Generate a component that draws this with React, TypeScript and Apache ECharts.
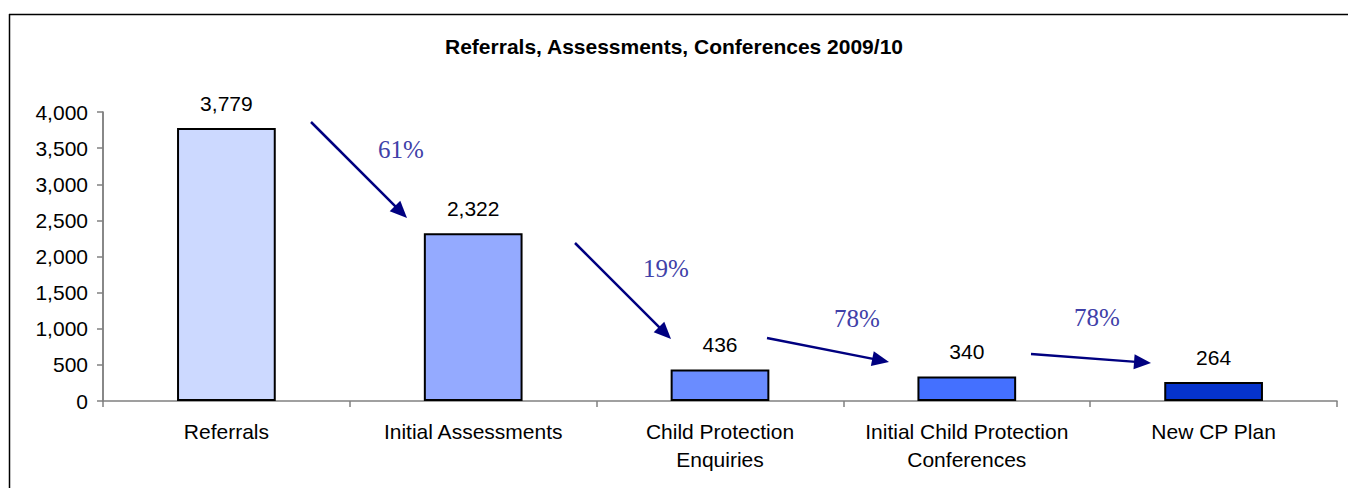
import React, { useEffect, useRef } from "react";
import * as echarts from "echarts";

const categories = [
  "Referrals",
  "Initial Assessments",
  "Child Protection\nEnquiries",
  "Initial Child Protection\nConferences",
  "New CP Plan",
];
const values = [3779, 2322, 436, 340, 264];
const barColors = ["#CCD9FF", "#94AAFF", "#6A8CFF", "#4470FF", "#0533CC"];
const yTicks = { min: 0, max: 4000, interval: 500 };
const conversionLabels = ["61%", "19%", "78%", "78%"];

const SANS = "'Liberation Sans', Arial, sans-serif";
const SERIF = "'Liberation Serif', 'Times New Roman', serif";

// annotation arrows (pixel positions): [x1, y1, x2, y2], label centre
const arrowGeom = [
  { a: [311, 122, 407, 218], l: [401, 149] },
  { a: [575, 243, 671, 339], l: [666, 268] },
  { a: [767, 338, 889, 362], l: [857, 318] },
  { a: [1031, 354, 1151, 363], l: [1097, 317] },
];

function arrowGraphics() {
  const out: any[] = [];
  arrowGeom.forEach((g, i) => {
    const [x1, y1, x2, y2] = g.a;
    const dx = x2 - x1;
    const dy = y2 - y1;
    const len = Math.sqrt(dx * dx + dy * dy);
    const ux = dx / len;
    const uy = dy / len;
    const headLen = 17;
    const headW = 7.5;
    const bx = x2 - ux * headLen;
    const by = y2 - uy * headLen;
    out.push({
      type: "line",
      shape: { x1, y1, x2: bx + ux * 2, y2: by + uy * 2 },
      style: { stroke: "#000080", lineWidth: 2.5 },
      z: 10,
    });
    out.push({
      type: "polygon",
      shape: {
        points: [
          [x2, y2],
          [bx - uy * headW, by + ux * headW],
          [bx + uy * headW, by - ux * headW],
        ],
      },
      style: { fill: "#000080" },
      z: 10,
    });
    out.push({
      type: "text",
      x: g.l[0],
      y: g.l[1],
      style: {
        text: conversionLabels[i],
        font: `25px ${SERIF}`,
        fill: "#4040A8",
        textAlign: "center",
        textVerticalAlign: "middle",
      },
      z: 10,
    });
  });
  return out;
}

export default function App() {
  const ref = useRef<HTMLDivElement>(null);
  useEffect(() => {
    if (!ref.current) return;
    const chart = echarts.init(ref.current, null, { renderer: "svg" });
    chart.setOption({
      animation: false,
      backgroundColor: "#ffffff",
      title: {
        text: "Referrals, Assessments, Conferences 2009/10",
        left: "center",
        top: 31,
        textStyle: {
          fontFamily: SANS,
          fontSize: 21,
          fontWeight: "bold",
          color: "#000",
        },
      },
      grid: { left: 103, right: 11, top: 112, bottom: 87, containLabel: false },
      xAxis: {
        type: "category",
        data: categories,
        axisLine: { lineStyle: { color: "#808080", width: 1.5 } },
        axisTick: {
          show: true,
          alignWithLabel: false,
          length: 6,
          lineStyle: { color: "#808080", width: 1.5 },
        },
        axisLabel: {
          fontFamily: SANS,
          fontSize: 21,
          color: "#000",
          margin: 16,
          lineHeight: 28,
          interval: 0,
        },
      },
      yAxis: {
        type: "value",
        min: yTicks.min,
        max: yTicks.max,
        interval: yTicks.interval,
        splitLine: { show: false },
        axisLine: { show: true, lineStyle: { color: "#606060", width: 1.5 } },
        axisTick: { show: true, length: 6, lineStyle: { color: "#808080", width: 1.5 } },
        axisLabel: {
          fontFamily: SANS,
          fontSize: 21,
          color: "#000",
          margin: 15,
          formatter: (v: number) => v.toLocaleString("en-US"),
        },
      },
      series: [
        {
          type: "bar",
          barWidth: "40%",
          data: values.map((v, i) => ({
            value: v,
            itemStyle: { color: barColors[i], borderColor: "#000", borderWidth: 2 },
          })),
          label: {
            show: true,
            position: "top",
            distance: 14,
            fontFamily: SANS,
            fontSize: 21,
            color: "#000",
            formatter: (p: any) => Number(p.value).toLocaleString("en-US"),
          },
        },
      ],
      graphic: [
        {
          type: "line",
          shape: { x1: 9, y1: 14.5, x2: 1348, y2: 14.5 },
          style: { stroke: "#000", lineWidth: 1.5 },
        },
        {
          type: "line",
          shape: { x1: 9.5, y1: 14, x2: 9.5, y2: 488 },
          style: { stroke: "#000", lineWidth: 1.5 },
        },
        ...arrowGraphics(),
      ],
    });
    return () => chart.dispose();
  }, []);
  return (
    <div
      ref={ref}
      style={{ position: "fixed", left: 0, top: 0, width: 1348, height: 488 }}
    />
  );
}
